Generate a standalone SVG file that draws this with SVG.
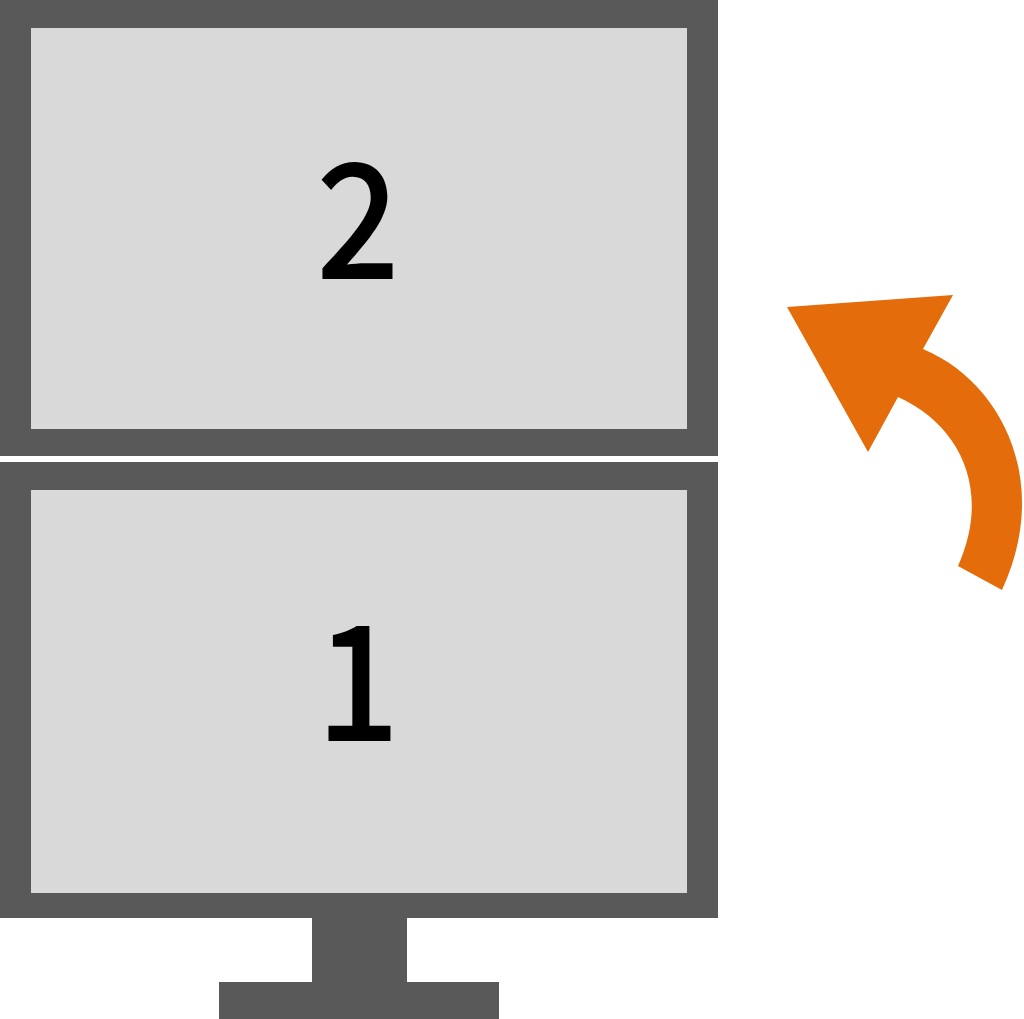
<svg xmlns="http://www.w3.org/2000/svg" width="1024" height="1019" viewBox="0 0 1024 1019">
<style>
.frame{fill:#595959}
.screen{fill:#d9d9d9}
.num{font-family:"Noto Sans CJK JP","Noto Sans",sans-serif;font-size:160px;font-weight:500;fill:#000;text-anchor:middle}
</style>
<rect width="1024" height="1019" fill="#fff"/>
<g id="monitor-2">
<rect class="frame" x="0" y="0" width="718" height="456"/>
<rect class="screen" x="31" y="28" width="656" height="401"/>
<text class="num" transform="translate(358 279) scale(.92 1)">2</text>
</g>
<g id="monitor-1">
<rect class="frame" x="0" y="462" width="718" height="456"/>
<rect class="screen" x="31" y="490" width="656" height="403"/>
<rect class="frame" x="312" y="918" width="95" height="64"/>
<rect class="frame" x="219" y="982" width="280" height="37"/>
<text class="num" transform="translate(358 741) scale(.92 1)">1</text>
</g>
<g id="connectors">
<path fill="#e46c0a" d="M787 307L953 295L923 349C1002 382 1052 482 1002 590L958 566C992 490 960 425 898 397L868 452Z"/>
</g>
</svg>
